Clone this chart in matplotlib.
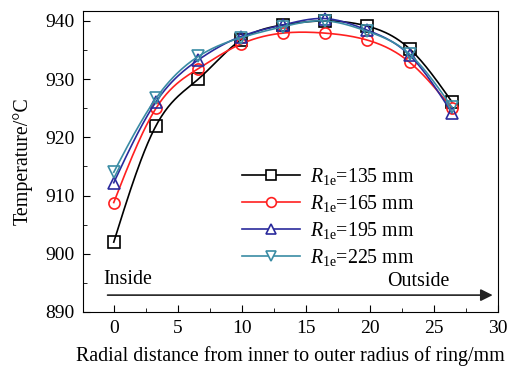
import numpy as np
import matplotlib
matplotlib.use("Agg")
import matplotlib.pyplot as plt

plt.rcParams['font.family'] = ['Liberation Serif', 'DejaVu Serif']
plt.rcParams['mathtext.fontset'] = 'custom'
plt.rcParams['mathtext.rm'] = 'Liberation Serif'
plt.rcParams['mathtext.it'] = 'Liberation Serif:style=italic'

x = [0, 3.3, 6.6, 9.9, 13.2, 16.5, 19.8, 23.1, 26.4]
t135 = [902, 922, 930, 936.7, 939.3, 940, 939.1, 935.2, 926.1]
t165 = [908.8, 925, 931.8, 936, 937.9, 937.9, 936.7, 932.9, 925]
t195 = [912.2, 926.1, 933.3, 937.3, 939.3, 940.4, 938.4, 934.1, 924.2]
t225 = [914, 926.7, 933.9, 937.1, 939, 940, 938.2, 934.3, 925.2]
labels = ['135', '165', '195', '225']


def spline(xs, ys, n=200):
    # natural cubic spline, only used to draw the smooth connecting curve
    xs = np.asarray(xs, float)
    ys = np.asarray(ys, float)
    k = len(xs)
    h = np.diff(xs)
    A = np.zeros((k, k))
    b = np.zeros(k)
    A[0, 0] = A[-1, -1] = 1
    for i in range(1, k - 1):
        A[i, i - 1] = h[i - 1]
        A[i, i] = 2 * (h[i - 1] + h[i])
        A[i, i + 1] = h[i]
        b[i] = 3 * ((ys[i + 1] - ys[i]) / h[i] - (ys[i] - ys[i - 1]) / h[i - 1])
    c = np.linalg.solve(A, b)
    xx = np.linspace(xs[0], xs[-1], n)
    idx = np.clip(np.searchsorted(xs, xx) - 1, 0, k - 2)
    dx = xx - xs[idx]
    bb = (ys[idx + 1] - ys[idx]) / h[idx] - h[idx] * (2 * c[idx] + c[idx + 1]) / 3
    dd = (c[idx + 1] - c[idx]) / (3 * h[idx])
    yy = ys[idx] + bb * dx + c[idx] * dx ** 2 + dd * dx ** 3
    return xx, yy


fig = plt.figure(figsize=(5.11, 3.68), dpi=100)
ax = fig.add_axes([83 / 511, 1 - 312 / 368, 415 / 511, 301 / 368])

styles = [('black', 's'), ('#ff2020', 'o'), ('#2a2a9c', '^'), ('#3a8ca4', 'v')]
for ys, lab, (col, mk) in zip([t135, t165, t195, t225], labels, styles):
    xx, yy = spline(x, ys)
    ax.plot(xx, yy, color=col, lw=1.2)
    ax.plot(x, ys, ls='none', marker=mk, ms=8, mfc='none', mec=col, mew=1.2)
    ax.plot([], [], color=col, lw=1.2, marker=mk, ms=7, mfc='white', mec=col, mew=1.2,
            label=r'$R_{\mathrm{1e}}$=' + lab + ' mm')

ax.set_xlim(-2.4, 30)
ax.set_ylim(890, 941.7)
ax.set_xticks([0, 5, 10, 15, 20, 25, 30])
ax.set_xticks(np.arange(2.5, 30, 5), minor=True)
ax.set_yticks(np.arange(890, 941, 10))
ax.set_yticks(np.arange(895, 941, 10), minor=True)
ax.tick_params(direction='in', which='both', labelsize=14, top=False, right=False)
ax.tick_params(which='major', length=5, pad=6)
ax.tick_params(which='minor', length=3)
ax.set_xlabel('Radial distance from inner to outer radius of ring/mm', fontsize=14.4, labelpad=6)
ax.set_ylabel('Temperature/°C', fontsize=14.4, labelpad=9)

ax.annotate('', xy=(29.8, 892.9), xytext=(-0.7, 892.9),
            arrowprops=dict(arrowstyle='-|>', color='#222222', lw=1.2, mutation_scale=18))
ax.text(-0.8, 894, 'Inside', fontsize=14.4, ha='left', va='bottom')
ax.text(26.2, 893.6, 'Outside', fontsize=14.4, ha='right', va='bottom')

ax.legend(loc='lower left', bbox_to_anchor=(0.365, 0.12), frameon=False, fontsize=14.3,
          handlelength=2.9, handletextpad=0.5, labelspacing=0.3, borderaxespad=0)

fig.savefig('out.png', dpi=100)
